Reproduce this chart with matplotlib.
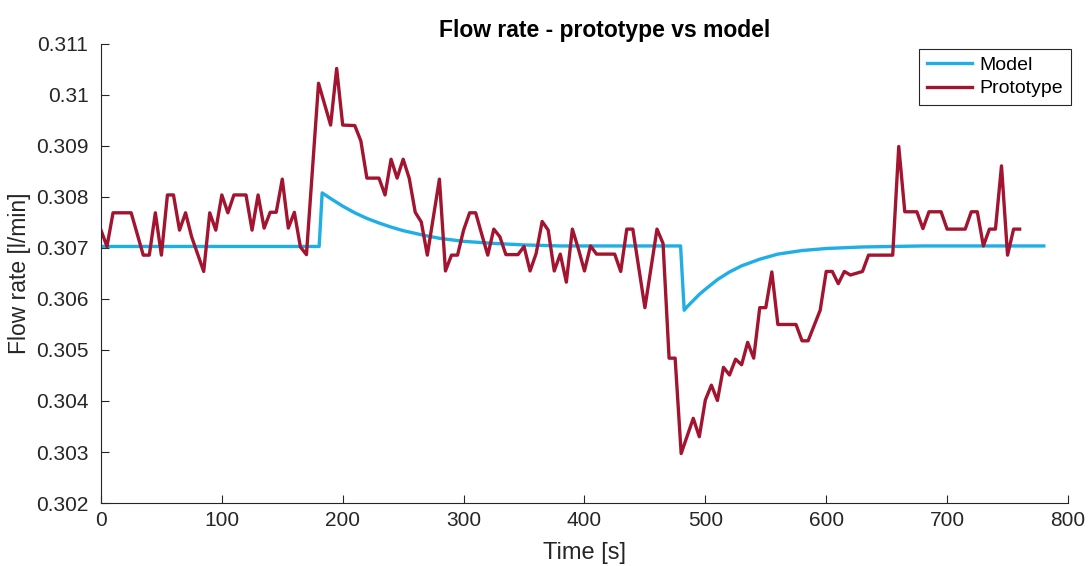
import numpy as np
import matplotlib.pyplot as plt

# prototype measurement (time in s, flow in l/min)
proto_t = [0, 5, 10, 25, 35, 40, 45, 50, 55, 60, 65, 70, 75, 85, 90, 95, 100, 105, 110, 120,
           125, 130, 135, 140, 145, 150, 155, 160, 165, 170, 180, 190, 195, 200, 210, 215, 220,
           230, 235, 240, 245, 250, 255, 260, 265, 270, 280, 285, 290, 295, 300, 305, 310, 315,
           320, 325, 330, 335, 345, 350, 355, 360, 365, 370, 375, 380, 385, 390, 395, 400, 405,
           410, 425, 430, 435, 440, 450, 460, 465, 470, 475, 480, 490, 495, 500, 505, 510, 515,
           520, 525, 530, 535, 540, 545, 550, 555, 560, 575, 580, 585, 595, 600, 605, 610, 615,
           620, 630, 635, 655, 660, 665, 675, 680, 685, 695, 700, 715, 720, 725, 730, 735, 740,
           745, 750, 755, 760]
proto_q = [0.30735, 0.30703, 0.30769, 0.30769, 0.30686, 0.30686, 0.30769, 0.30686, 0.30804,
           0.30804, 0.30735, 0.30769, 0.30722, 0.30654, 0.30769, 0.30735, 0.30804, 0.30769,
           0.30804, 0.30804, 0.30735, 0.30804, 0.30739, 0.30770, 0.30770, 0.30835, 0.30739,
           0.30770, 0.30702, 0.30687, 0.31023, 0.30941, 0.31052, 0.30941, 0.30940, 0.30910,
           0.30837, 0.30837, 0.30804, 0.30874, 0.30837, 0.30874, 0.30837, 0.30770, 0.30751,
           0.30686, 0.30835, 0.30655, 0.30686, 0.30686, 0.30735, 0.30769, 0.30769, 0.30727,
           0.30686, 0.30737, 0.30722, 0.30687, 0.30687, 0.30703, 0.30655, 0.30689, 0.30752,
           0.30735, 0.30655, 0.30688, 0.30633, 0.30737, 0.30698, 0.30655, 0.30704, 0.30688,
           0.30688, 0.30654, 0.30737, 0.30737, 0.30583, 0.30737, 0.30709, 0.30484, 0.30484,
           0.30297, 0.30366, 0.30330, 0.30402, 0.30431, 0.30401, 0.30466, 0.30451, 0.30482,
           0.30471, 0.30515, 0.30484, 0.30583, 0.30583, 0.30653, 0.30550, 0.30550, 0.30518,
           0.30518, 0.30578, 0.30654, 0.30654, 0.30630, 0.30654, 0.30647, 0.30654, 0.30686,
           0.30686, 0.30899, 0.30771, 0.30771, 0.30738, 0.30771, 0.30771, 0.30737, 0.30737,
           0.30771, 0.30771, 0.30704, 0.30737, 0.30737, 0.30861, 0.30686, 0.30737, 0.30737]

# simulated model response
model_t = [0, 180.5, 183, 190, 200, 210, 220, 230, 240, 250, 265, 280, 300, 325, 350, 380,
           479.5, 482.5, 485, 490, 495, 500, 510, 520, 530, 545, 560, 580, 600, 630, 680, 780]
model_q = [0.30703, 0.30703, 0.30808, 0.30797, 0.30782, 0.30769, 0.30758, 0.30749, 0.30741,
           0.30734, 0.30726, 0.30719, 0.30713, 0.30709, 0.30706, 0.30704,
           0.30704, 0.30578, 0.30585, 0.30597, 0.30609, 0.30619, 0.30638, 0.30653, 0.30665,
           0.30678, 0.30688, 0.30695, 0.30699, 0.30702, 0.30704, 0.30704]

xticks = np.arange(0, 801, 100)
yticks = np.arange(0.302, 0.3111, 0.001)

plt.rcParams['font.family'] = ['Liberation Sans', 'DejaVu Sans']
axcol = '#262626'

fig = plt.figure(figsize=(10.89, 5.66), dpi=100)
ax = fig.add_axes([0.0927, 0.1113, 0.888, 0.811])

ax.plot(model_t, model_q, color='#1FAEE6', linewidth=2.4, label='Model')
ax.plot(proto_t, proto_q, color='#A2142F', linewidth=2.4, label='Prototype')

ax.set_xlim(0, 800)
ax.set_ylim(0.302, 0.311)
ax.set_xticks(xticks)
ax.set_yticks(yticks)
ax.set_yticklabels(['%g' % round(v, 3) for v in yticks])

for s in ['top', 'right']:
    ax.spines[s].set_visible(False)
for s in ['left', 'bottom']:
    ax.spines[s].set_color(axcol)
    ax.spines[s].set_linewidth(0.8)
ax.tick_params(direction='in', length=6, width=0.8, colors=axcol, labelsize=15)
ax.tick_params(axis='y', pad=9)
ax.tick_params(axis='x', pad=6)

ax.set_title('Flow rate - prototype vs model', fontsize=16.5, fontweight='bold', pad=5, x=0.521)
ax.set_xlabel('Time [s]', fontsize=17, color=axcol)
ax.set_ylabel('Flow rate [l/min]', fontsize=16.5, color=axcol)
ax.xaxis.set_label_coords(0.5, -0.085)
ax.yaxis.set_label_coords(-0.072, 0.5)

leg = ax.legend(loc='upper right', bbox_to_anchor=(1.003, 0.99), fontsize=14, fancybox=False,
                edgecolor='#262626', framealpha=1, handlelength=2.3, handletextpad=0.4,
                borderpad=0.4, labelspacing=0.3, borderaxespad=0.0)
leg.get_frame().set_linewidth(0.8)

fig.savefig('out.png', dpi=100)
